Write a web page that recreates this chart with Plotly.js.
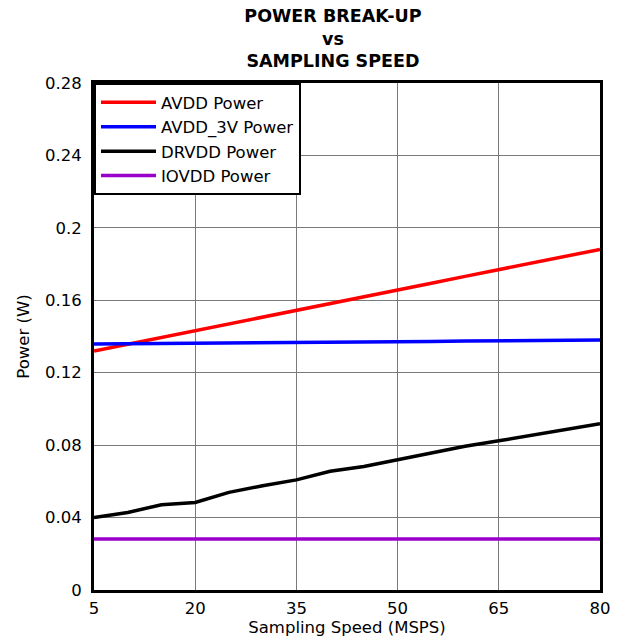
<!DOCTYPE html>
<html>
<head>
<meta charset="utf-8">
<script src="https://cdn.plot.ly/plotly-3.0.1.min.js"></script>
<style>html,body{margin:0;padding:0;background:#fff}#chart{width:633px;height:642px}</style>
</head>
<body>
<div id="chart"></div>
<script>
const speed = [5, 10, 15, 20, 25, 30, 35, 40, 45, 50, 55, 60, 65, 70, 75, 80];
const avddPower = [0.132, 0.1357, 0.1395, 0.1433, 0.147, 0.1507, 0.1545, 0.1582, 0.162, 0.1657, 0.1694, 0.1732, 0.1769, 0.1806, 0.1844, 0.1881];
const avdd3vPower = [0.1359, 0.136, 0.1362, 0.1363, 0.1365, 0.1366, 0.1368, 0.1369, 0.137, 0.1372, 0.1373, 0.1375, 0.1376, 0.1378, 0.1379, 0.1381];
const drvddPower = [0.040, 0.0428, 0.0471, 0.0483, 0.0539, 0.0576, 0.0608, 0.0656, 0.0682, 0.072, 0.0757, 0.0794, 0.0824, 0.0855, 0.0887, 0.0918];
const iovddPower = [0.0282, 0.0282, 0.0282, 0.0282, 0.0282, 0.0282, 0.0282, 0.0282, 0.0282, 0.0282, 0.0282, 0.0282, 0.0282, 0.0282, 0.0282, 0.0282];
const seriesNames = ["AVDD Power", "AVDD_3V Power", "DRVDD Power", "IOVDD Power"];
const titleLines = ["POWER BREAK-UP", "vs", "SAMPLING SPEED"];
const xTicks = [5, 20, 35, 50, 65, 80];
const yTicks = [0, 0.04, 0.08, 0.12, 0.16, 0.2, 0.24, 0.28];
const yTickText = ["0", "0.04", "0.08", "0.12", "0.16", "0.2", "0.24", "0.28"];

const colors = ["#ff0000", "#0000ff", "#000000", "#9900cc"];
const ys = [avddPower, avdd3vPower, drvddPower, iovddPower];
const traces = ys.map((y, i) => ({
  x: speed, y: y, type: "scatter", mode: "lines", name: seriesNames[i],
  line: {color: colors[i], width: 3.5}
}));

const font = {family: "DejaVu Sans, Verdana, sans-serif", color: "#000"};
const layout = {
  width: 633, height: 642,
  margin: {l: 94, r: 33, t: 83, b: 52},
  paper_bgcolor: "#fff", plot_bgcolor: "#fff",
  font: Object.assign({size: 16.5}, font),
  title: {text: "<b>" + titleLines.join("<br>") + "</b>", font: Object.assign({size: 17.5}, font),
          xref: "container", x: 0.526, xanchor: "center", yref: "container", y: 0.966, yanchor: "top"},
  xaxis: {range: [5, 80], tickvals: xTicks, ticktext: xTicks.map(String), showgrid: true,
          gridcolor: "#7a7a7a", gridwidth: 1, zeroline: false, showline: true, linecolor: "#000",
          linewidth: 3, mirror: true, ticks: "", tickfont: {size: 16.5}, ticklabelstandoff: 1,
          title: {text: "Sampling Speed (MSPS)", font: {size: 16.5}, standoff: 4}},
  yaxis: {range: [0, 0.28], tickvals: yTicks, ticktext: yTickText, showgrid: true,
          gridcolor: "#7a7a7a", gridwidth: 1, zeroline: false, showline: true, linecolor: "#000",
          linewidth: 3, mirror: true, ticks: "", tickfont: {size: 16.5}, ticklabelstandoff: 6,
          title: {text: "Power (W)", font: {size: 16.5}, standoff: 12}},
  showlegend: true,
  legend: {x: 0, y: 1, xanchor: "left", yanchor: "top", bgcolor: "#fff", bordercolor: "#000",
           borderwidth: 2, font: {size: 16.5}, tracegroupgap: 0, itemwidth: 55}
};
Plotly.newPlot("chart", traces, layout, {staticPlot: true, displayModeBar: false});
</script>
</body>
</html>
